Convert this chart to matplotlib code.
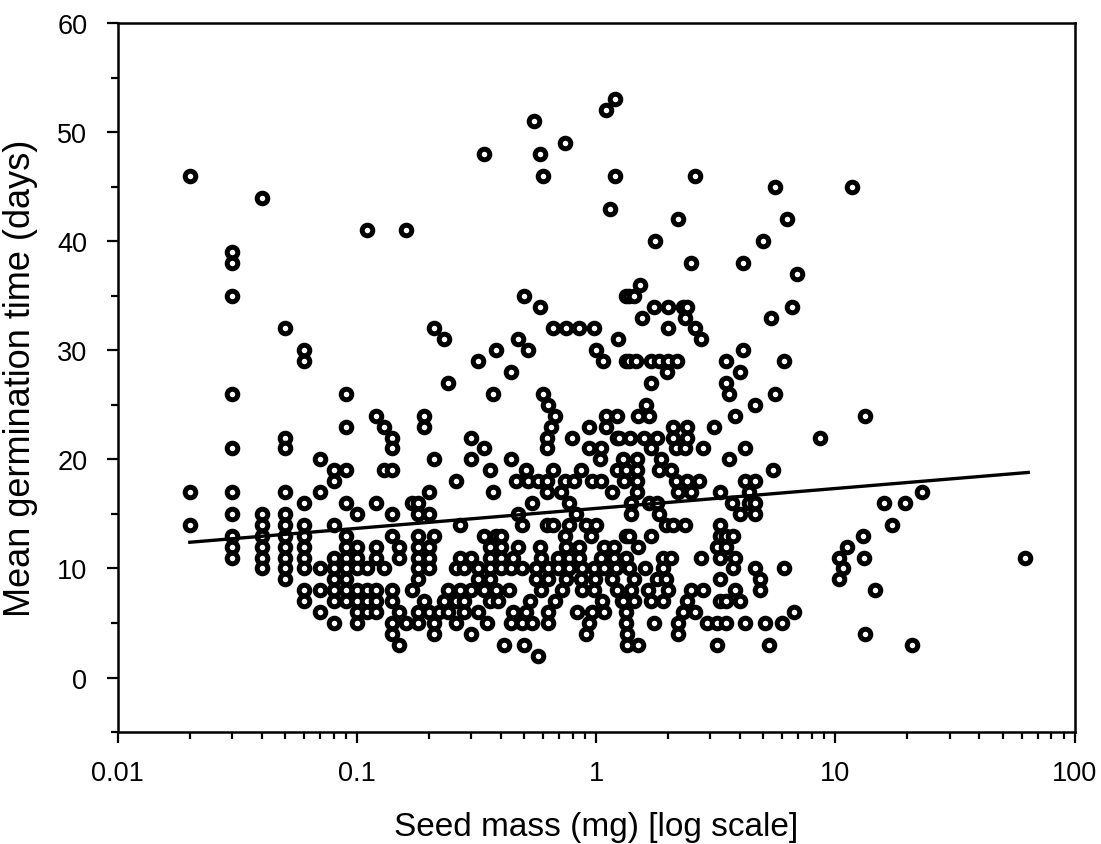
import numpy as np
import matplotlib
matplotlib.use('Agg')
from matplotlib import pyplot as plt
from matplotlib.ticker import LogLocator, MultipleLocator, FixedLocator

plt.rcParams['font.family'] = ['Liberation Sans', 'DejaVu Sans']

# seed mass (mg) of each column of points, and the germination times at that mass
col_mass = [0.02, 0.03, 0.04, 0.05, 0.06, 0.07, 0.08, 0.09, 0.1, 0.11, 0.12, 0.13, 0.14,
            0.15, 0.16, 0.17, 0.18, 0.19, 0.2, 0.21, 0.22, 0.23, 0.24, 0.26, 0.27, 0.28,
            0.30, 0.32, 0.34, 0.35, 0.36, 0.37, 0.38, 0.39, 0.40, 0.41, 0.43, 0.44, 0.45,
            0.46, 0.47, 0.49, 0.5, 0.51, 0.52, 0.53, 0.54, 0.55, 0.56, 0.57, 0.58, 0.59,
            0.6, 0.62, 0.63, 0.65, 0.66, 0.67, 0.69, 0.71, 0.72, 0.74, 0.75, 0.77, 0.79,
            0.81, 0.82, 0.83, 0.85, 0.86, 0.87, 0.91, 0.93, 0.95, 0.96, 0.98, 0.99, 1.0,
            1.04, 1.05, 1.06, 1.07, 1.08, 1.1, 1.14, 1.16, 1.19, 1.2, 1.21, 1.22, 1.23,
            1.24, 1.28, 1.3, 1.31, 1.33, 1.35, 1.37, 1.39, 1.4, 1.44, 1.46, 1.48, 1.5,
            1.52, 1.56, 1.58, 1.6, 1.62, 1.65, 1.67, 1.7, 1.75, 1.76, 1.8, 1.83, 1.86,
            1.9, 1.95, 1.97, 2.0, 2.05, 2.1, 2.15, 2.17, 2.2, 2.3, 2.35, 2.4, 2.5, 2.6,
            2.7, 2.75, 2.8, 2.9, 3.1, 3.2, 3.3, 3.5, 3.6, 3.7, 3.75, 3.8, 4.0, 4.1, 4.2,
            4.35, 4.6, 4.85, 5.0, 5.1, 5.3, 5.4, 5.5, 5.6, 6.0, 6.1, 6.3, 6.6, 6.7, 6.9,
            8.6, 10.4, 10.8, 11.2, 11.7, 13.1, 13.2, 13.3, 14.6, 16, 17.3, 19.5, 21,
            23.1, 62]
col_days = [[46, 17, 14], [39, 38, 35, 26, 21, 17, 15, 13, 12, 11],
            [44, 15, 14, 13, 12, 11, 10], [32, 22, 21, 17, 15, 14, 13, 12, 11, 10, 9],
            [30, 29, 16, 14, 13, 12, 11, 10, 8, 7], [20, 17, 10, 8, 6],
            [19, 18, 14, 11, 10, 9, 8, 7, 5], [26, 23, 19, 16, 13, 12, 11, 10, 9, 8, 7],
            [15, 12, 11, 10, 8, 7, 6, 5], [41, 10, 8, 7, 6], [24, 16, 12, 11, 8, 7, 6],
            [23, 19, 10], [22, 21, 19, 15, 13, 8, 7, 5, 4], [12, 11, 6, 3], [41, 5],
            [16, 8], [16, 15, 13, 12, 11, 10, 9, 6, 5], [24, 23, 7], [17, 15, 12, 11, 10, 6],
            [32, 20, 13, 5, 4], [6], [31, 7], [27, 8, 6], [18, 10, 7, 5], [14, 11, 8],
            [10, 7, 6], [22, 20, 11, 8, 4], [29, 10, 9, 6], [48, 21, 13, 8], [5],
            [19, 12, 11, 10, 9, 7], [26, 17], [30, 13, 8], [7], [13, 12, 11, 10], [3], [8],
            [28, 20, 10, 5], [11, 6], [18], [31, 15, 12], [14, 10, 5], [35, 3], [19, 6],
            [30, 18], [7], [16, 5], [51], [10, 9], [18, 2], [48, 34, 12], [11, 8],
            [46, 26], [22, 21, 18, 17, 14], [25, 10, 9, 6, 5], [23], [32, 19, 14], [24, 7],
            [11, 10], [17], [8], [49, 18, 13], [32, 12, 9], [16, 14, 11, 10], [22], [18],
            [15], [6], [32, 12, 11], [19, 9], [10, 8], [14, 4], [23, 21, 5], [13], [18, 6],
            [32, 10, 8], [9], [30, 14], [20], [21, 18, 11], [7], [29], [12, 10, 6],
            [52, 24, 23], [43], [17, 9], [12, 11], [53, 46], [10], [24, 22, 19, 8], [31],
            [22], [7], [20, 7], [18], [35, 29, 19, 13, 11, 6, 5], [4, 3], [35, 29, 13, 10],
            [22], [16, 15, 8], [35, 9, 7], [29], [20, 19, 18, 17], [24, 12, 3], [36], [33],
            [22], [10], [25], [8], [24, 16], [29, 27, 21, 13, 7], [34, 5], [40], [22, 16, 9],
            [29, 19, 15], [20], [11, 10, 7], [14, 9], [28], [34, 32, 29, 8], [19, 11],
            [23, 22, 14], [21, 18], [29], [42, 17, 5, 4], [34, 6], [33, 21, 14],
            [34, 23, 22, 18, 7], [38, 17, 8], [46, 32, 6], [18], [31, 11], [21, 8], [5],
            [23], [12, 5, 3], [17, 14, 13, 11, 9, 7], [29, 27, 13, 12, 7, 5], [26, 20], [16],
            [13, 10], [24, 11, 8], [28, 15, 7], [38, 30], [21, 18, 5], [17, 16],
            [25, 18, 16, 15, 10], [9, 8], [40], [5], [3], [33], [19], [45, 26], [5],
            [29, 10], [42], [34], [6], [37], [22], [11, 9], [10], [12], [45], [13], [11],
            [24, 4], [8], [16], [14], [16], [3], [17], [11]]

# fitted regression line end points
fit_mass = [0.02, 64]
fit_days = [12.4, 18.8]

seed_mass = np.concatenate([[m] * len(d) for m, d in zip(col_mass, col_days)])
germ_days = np.concatenate(col_days)

fig = plt.figure(figsize=(11.01, 8.45), dpi=100)
ax = fig.add_axes([0.107, 0.1325, 0.869, 0.839])

ax.plot(seed_mass, germ_days, 'o', markersize=7.6, markerfacecolor='white',
        markeredgecolor='black', markeredgewidth=3.6, linestyle='none')
ax.plot(fit_mass, fit_days, color='black', linewidth=2.4)

ax.set_xscale('log')
ax.set_xlim(0.01, 100)
ax.set_ylim(-5, 60)
ax.xaxis.set_major_locator(FixedLocator([0.01, 0.1, 1, 10, 100]))
ax.xaxis.set_minor_locator(LogLocator(base=10, subs=np.arange(2, 10)))
ax.set_xticklabels(['0.01', '0.1', '1', '10', '100'])
ax.yaxis.set_major_locator(FixedLocator([0, 10, 20, 30, 40, 50, 60]))
ax.yaxis.set_minor_locator(MultipleLocator(5))

ax.tick_params(which='major', direction='out', length=8, width=1.6, labelsize=19.5,
               top=False, right=False)
ax.tick_params(which='minor', direction='out', length=5, width=1.6,
               top=False, right=False)
ax.tick_params(axis='x', which='major', pad=12)
ax.tick_params(axis='y', which='major', pad=14)
for s in ax.spines.values():
    s.set_linewidth(1.8)

ax.set_xlabel('Seed mass (mg) [log scale]', fontsize=24, labelpad=18)
ax.set_ylabel('Mean germination time (days)', fontsize=26, labelpad=14)

plt.savefig('out.png', dpi=100)
plt.close()
